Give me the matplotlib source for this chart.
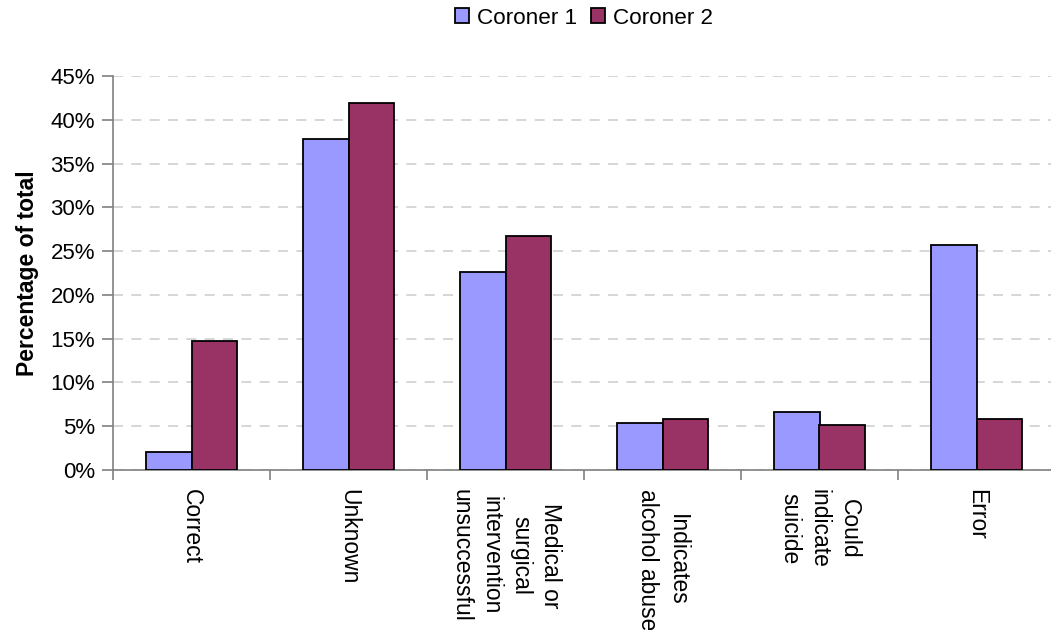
import matplotlib
matplotlib.use("Agg")
import matplotlib.pyplot as plt
from matplotlib.ticker import FuncFormatter, MultipleLocator, FixedLocator
import numpy as np

plt.rcParams['font.family'] = ['Liberation Sans', 'DejaVu Sans']

categories = ["Correct", "Unknown", "Medical or\nsurgical\nintervention\nunsuccessful",
              "Indicates\nalcohol abuse", "Could\nindicate\nsuicide", "Error"]
coroner1 = [2.1, 37.8, 22.6, 5.4, 6.6, 25.7]
coroner2 = [14.7, 41.9, 26.7, 5.8, 5.1, 5.8]
series_names = ["Coroner 1", "Coroner 2"]
colors = ["#9999FF", "#993366"]

W, H = 1051, 630
fig = plt.figure(figsize=(W / 100, H / 100), dpi=100)
ax = fig.add_axes([113 / W, 1 - 470 / H, (1055 - 113) / W, (470 - 76) / H])

x = np.arange(len(categories))
bw = 0.29
b1 = ax.bar(x - bw / 2, coroner1, bw, color=colors[0], edgecolor="black",
            linewidth=1.3, label=series_names[0], zorder=3)
b2 = ax.bar(x + bw / 2, coroner2, bw, color=colors[1], edgecolor="black",
            linewidth=1.3, label=series_names[1], zorder=3)

ax.set_xlim(-0.5, 5.5)
ax.set_ylim(0, 45)
ax.yaxis.set_major_locator(MultipleLocator(5))
ax.yaxis.set_major_formatter(FuncFormatter(lambda v, p: f"{v:.0f}%"))
ax.grid(axis="y", color="#cfcfcf", linestyle=(0, (6, 5)), linewidth=1.2, zorder=0)

for side in ["top", "right"]:
    ax.spines[side].set_visible(False)
for side in ["left", "bottom"]:
    ax.spines[side].set_color("#808080")
    ax.spines[side].set_linewidth(1.2)

ax.tick_params(axis="y", direction="out", length=8, width=1.2, color="#808080",
               labelsize=16, pad=5)
ax.set_xticks(x)
ax.set_xticklabels([])
ax.xaxis.set_minor_locator(FixedLocator(np.arange(-0.5, 6, 1)))
ax.tick_params(axis="x", which="major", length=0)
ax.tick_params(axis="x", which="minor", direction="out", length=7, width=1.2,
               color="#808080")

for xi, lab in zip(x, categories):
    ax.annotate(lab, xy=(xi, 0), xycoords="data", xytext=(0, -19),
                textcoords="offset pixels", rotation=-90, ha="center", va="top",
                multialignment="center", fontsize=16.5, linespacing=1.38)

ax.set_ylabel("Percentage of total", fontsize=16.5, fontweight="bold", labelpad=8)

fig.legend(handles=[b1, b2], labels=series_names, loc="center",
           bbox_to_anchor=(584 / W, 1 - 18 / H), ncol=2, frameon=False,
           fontsize=16.2, handlelength=0.65, handleheight=0.65, handletextpad=0.35,
           columnspacing=0.6, borderaxespad=0)

fig.savefig("out.png", dpi=100)
